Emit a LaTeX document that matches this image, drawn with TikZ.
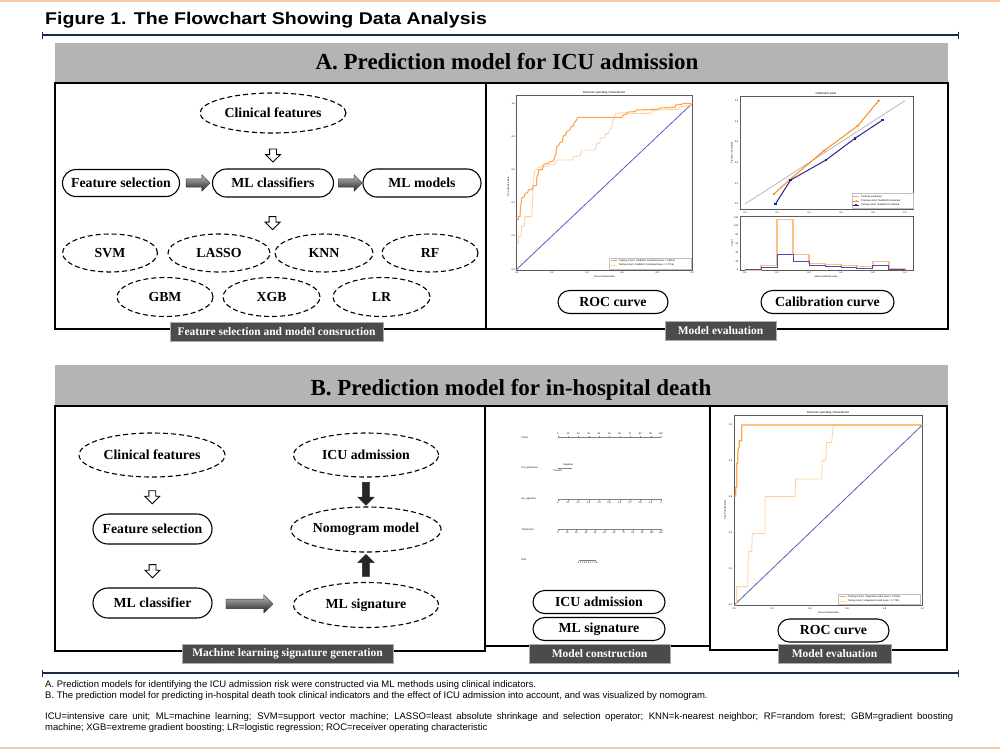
\documentclass[tikz,border=0pt]{standalone}
\usepackage{fontspec}
\setmainfont{Liberation Serif}
\newfontfamily\arialf{Liberation Sans}
\usetikzlibrary{shapes.geometric,shapes.misc,shapes.arrows}
\definecolor{salmon}{HTML}{F8C6A8}
\definecolor{navy}{HTML}{1C2A4E}
\definecolor{hdrgray}{HTML}{B4B4B4}
\definecolor{lblgray}{HTML}{4B4B4B}
\definecolor{rocA}{HTML}{FFA547}
\definecolor{rocB}{HTML}{FFD3A0}
\definecolor{diagblue}{HTML}{5B5BC2}
\definecolor{calorange}{HTML}{FF8A1E}
\definecolor{calblue}{HTML}{25258F}
\definecolor{histor}{HTML}{FFBF80}
\definecolor{histbl}{HTML}{4E4EAE}
\newcommand{\tinyf}{\arialf\fontsize{2.4}{2.8}\selectfont}
\begin{document}
\begin{tikzpicture}[x=1pt,y=-1pt,
  ff/.style={font=\bfseries\fontsize{13.8}{16}\selectfont},
  dashell/.style={ellipse, draw, dash pattern=on 5pt off 3pt, line width=1.1pt, inner sep=0pt, ff},
  stad/.style={rounded rectangle, draw, line width=1.1pt, inner sep=0pt, ff},
  lbl/.style={rectangle, fill=lblgray, draw=gray!65, line width=0.7pt, text=white, inner sep=0pt, font=\bfseries\fontsize{11.5}{13}\selectfont},
  hollow/.style={single arrow, draw, fill=white, line width=0.9pt, rotate=-90, minimum height=13pt, inner sep=3pt, single arrow head extend=4pt},
  blockh/.style={single arrow, draw=gray!40!black, line width=0.4pt, top color=gray!50, bottom color=gray!25!black, inner sep=4pt, single arrow head extend=4pt},
  blockv/.style={single arrow, draw=gray!30!black, fill=gray!30!black, line width=0.4pt, inner sep=3.5pt, single arrow head extend=4.5pt, minimum height=23pt},
  panel/.style={draw=black, line width=1.3pt},
  tk/.style={font=\tinyf, inner sep=0.3pt},
  tkt/.style={font=\arialf\fontsize{2.9}{3.2}\selectfont, inner sep=0.3pt},
  fn/.style={anchor=base west, inner sep=0pt, font=\arialf\fontsize{9.5}{11}\selectfont},
]
\useasboundingbox (0,0) rectangle (1000,753);
\fill[white] (0,0) rectangle (1000,753);
% salmon rules
\draw[salmon, line width=2.5pt] (0,1) -- (1000,1);
\draw[salmon, line width=2.5pt] (0,748) -- (1000,748);
% title
\node[anchor=base west, inner sep=0pt, font=\arialf\bfseries\fontsize{17}{20}\selectfont] (title) at (45,24) {\scalebox{1.15}[1]{Figure 1. The Flowchart Showing Data Analysis}};
\draw[navy, line width=1.1pt] (42,35) -- (958,35);
\draw[navy, line width=1pt] (42,31.5) -- (42,38.5) (958,31.5) -- (958,38.5);
\draw[navy, line width=1.1pt] (42,673) -- (958,673);
\draw[navy, line width=1pt] (42,669.5) -- (42,676.5) (958,669.5) -- (958,676.5);

% ================= PANEL A =================
\fill[hdrgray] (55,43) rectangle (948,83);
\node[anchor=base, inner sep=0pt, font=\bfseries\fontsize{23}{26}\selectfont] (titleA) at (507,69.5) {A. Prediction model for ICU admission};
\draw[panel] (55,83) rectangle (486,329);
\draw[panel] (486,83) rectangle (948,329);

\node[dashell, minimum width=146pt, minimum height=40pt] (cfA) at (273,113) {Clinical features};
\node[stad, minimum width=117pt, minimum height=27pt] (fsA) at (121,183) {Feature selection};
\node[stad, minimum width=121pt, minimum height=28pt] (mlcA) at (273,183) {ML classifiers};
\node[stad, minimum width=118pt, minimum height=28pt] (mlmA) at (422,183) {ML models};
\node[dashell, minimum width=95pt, minimum height=38pt] (svm) at (110,253) {SVM};
\node[dashell, minimum width=102pt, minimum height=38pt] (lasso) at (219,253) {LASSO};
\node[dashell, minimum width=98pt, minimum height=38pt] (knn) at (324,253) {KNN};
\node[dashell, minimum width=96pt, minimum height=38pt] (rf) at (430,253) {RF};
\node[dashell, minimum width=96pt, minimum height=39pt] (gbm) at (165,297) {GBM};
\node[dashell, minimum width=97pt, minimum height=39pt] (xgb) at (271.5,297) {XGB};
\node[dashell, minimum width=97pt, minimum height=39pt] (lr) at (381.5,297) {LR};

\path (cfA.south) -- (mlcA.north) node[hollow, pos=0.58] (hA1) {};
\path (mlcA.south) -- (xgb.north) node[hollow, pos=0.3] (hA2) {};
\path (fsA.east) -- (mlcA.west) node[blockh, minimum height=24pt, pos=0.5] (bA1) {};
\path (mlcA.east) -- (mlmA.west) node[blockh, minimum height=24pt, pos=0.5] (bA2) {};

\node[lbl, minimum width=213pt, minimum height=19pt] (lblA1) at (276.5,332) {Feature selection and model consruction};
\node[lbl, minimum width=111pt, minimum height=19pt] (lblA2) at (720.5,331) {Model evaluation};
\node[stad, minimum width=110pt, minimum height=23pt] (rocA) at (613,302) {ROC curve};
\node[stad, minimum width=133pt, minimum height=23pt] (calA) at (827.5,302) {Calibration curve};

% ROC plot A
\begin{scope}[shift={(485,80)}, scale=0.3333]
\draw[gray!70!black, line width=0.4pt] (95,45) rectangle (622,570);
\node[tkt] (rAt) at (358,38) {Receiver operating characteristic};
\draw[diagblue, line width=0.8pt] (95,568) -- (622,70);
\draw[rocB, line width=0.9pt] (95,495) -- (100,490) -- (100,470) -- (108,468) -- (110,440) -- (118,438) -- (120,410) -- (140,410) -- (142,380) -- (145,300) -- (150,270) -- (160,268) -- (160,262) -- (190,258) -- (190,255) -- (210,252) -- (215,240) -- (262,240) -- (265,230) -- (285,228) -- (290,210) -- (330,210) -- (335,192) -- (345,188) -- (345,175) -- (360,172) -- (362,162) -- (372,160) -- (372,150) -- (380,145) -- (382,130) -- (388,108) -- (392,100) -- (420,98) -- (440,100) -- (495,100) -- (505,92) -- (520,90) -- (580,88) -- (585,80) -- (610,78) -- (622,70);
\draw[rocA, line width=1.1pt] (95,420) -- (100,418) -- (100,410) -- (105,410) -- (107,380) -- (110,355) -- (118,350) -- (120,340) -- (128,338) -- (130,330) -- (142,328) -- (145,318) -- (155,316) -- (155,295) -- (160,280) -- (162,270) -- (172,268) -- (175,255) -- (180,252) -- (190,250) -- (195,245) -- (205,243) -- (210,230) -- (213,220) -- (215,200) -- (222,195) -- (225,188) -- (232,185) -- (235,168) -- (242,165) -- (245,155) -- (255,150) -- (258,140) -- (265,138) -- (268,128) -- (275,120) -- (278,113) -- (285,112) -- (410,112) -- (415,105) -- (425,102) -- (430,96) -- (450,95) -- (455,90) -- (520,88) -- (525,84) -- (570,82) -- (572,75) -- (590,73) -- (595,70) -- (622,70);
\foreach \xx/\t in {95/0.0,200/0.2,306/0.4,411/0.6,517/0.8,622/1.0} \node[tk] (rAx\xx) at (\xx,579) {\t};
\foreach \yy/\t in {70/1.0,170/0.8,269/0.6,369/0.4,468/0.2,568/0.0} \node[tk, anchor=east] (rAy\yy) at (91,\yy) {\t};
\node[tk] (rAxl) at (358,591) {False Positive Rate};
\node[tk, rotate=90] (rAyl) at (70,320) {True Positive Rate};
\draw[gray!50, line width=0.3pt, fill=white] (372,533) rectangle (618,566);
\draw[rocA, line width=1pt] (378,543) -- (396,543);
\draw[rocB, line width=1pt] (378,556) -- (396,556);
\node[tk, anchor=west] (rAl1) at (400,543) {Training cohort: RadMUD Combined (area = 0.8952)};
\node[tk, anchor=west] (rAl2) at (400,556) {Testing cohort: RadMUD Combined (area = 0.7716)};
\end{scope}

% Calibration plot A
\begin{scope}[shift={(720,80)}, scale=0.3333]
\draw[gray!70!black, line width=0.4pt] (62,48) rectangle (580,388);
\node[tkt] (cAt) at (318,40) {Calibration plots};
\draw[gray!55, line width=0.8pt] (75,372) -- (555,62);
\draw[calorange, line width=1pt] (162,342) -- (208,300) -- (312,212) -- (414,137) -- (476,62);
\foreach \xx/\yy in {162/342,208/300,312/212,414/137,476/62} \fill[calorange] (\xx,\yy) circle (4);
\draw[calblue, line width=1pt] (166,372) -- (212,300) -- (318,240) -- (405,175) -- (488,120);
\foreach \xx/\yy in {166/372,212/300,318/240,405/175,488/120} \fill[calblue] (\xx-4,\yy-4) rectangle (\xx+4,\yy+4);
\foreach \xx/\t in {75/0.0,171/0.2,267/0.4,363/0.6,459/0.8,555/1.0} \node[tk] (cAx\xx) at (\xx,397) {\t};
\foreach \yy/\t in {62/1.0,124/0.8,186/0.6,248/0.4,310/0.2,372/0.0} \node[tk, anchor=east] (cAy\yy) at (56,\yy) {\t};
\node[tk, rotate=90] (cAyl) at (36,218) {Fraction of positives};
\draw[gray!50, line width=0.3pt, fill=white] (395,340) rectangle (578,384);
\draw[gray!55, line width=0.8pt] (400,350) -- (418,350);
\draw[calorange, line width=0.8pt] (400,363) -- (418,363);
\fill[calorange] (409,363) circle (3);
\draw[calblue, line width=0.8pt] (400,376) -- (418,376);
\fill[calblue] (406,373) rectangle (412,379);
\node[tk, anchor=west] (cAl1) at (422,350) {Perfectly calibrated};
\node[tk, anchor=west] (cAl2) at (422,363) {Training cohort: RadMUD Combined};
\node[tk, anchor=west] (cAl3) at (422,376) {Testing cohort: RadMUD Combined};
% histogram
\draw[gray!70!black, line width=0.4pt] (62,410) rectangle (580,572);
\draw[histor, line width=1.3pt] (75,570) -- (123,570) -- (123,556) -- (171,556) -- (171,418) -- (219,418) -- (219,523) -- (267,523) -- (267,550) -- (315,550) -- (315,553) -- (363,553) -- (363,556) -- (411,556) -- (411,560) -- (459,560) -- (459,545) -- (507,545) -- (507,566) -- (555,566) -- (555,570);
\draw[histbl, line width=1pt] (75,570) -- (123,570) -- (123,562) -- (171,562) -- (171,523) -- (219,523) -- (219,545) -- (267,545) -- (267,558) -- (315,558) -- (315,561) -- (363,561) -- (363,563) -- (411,563) -- (411,565) -- (459,565) -- (459,556) -- (507,556) -- (507,568) -- (555,568) -- (555,570);
\foreach \xx/\t in {75/0.0,171/0.2,267/0.4,363/0.6,459/0.8,555/1.0} \node[tk] (hAx\xx) at (\xx,579) {\t};
\foreach \yy/\t in {413/120,438/100,464/80,491/60,517/40,544/20,570/0} \node[tk, anchor=east] (hAy\yy) at (56,\yy) {\t};
\node[tk] (hAxl) at (318,590) {Mean predicted value};
\node[tk, rotate=90] (hAyl) at (36,490) {Count};
\end{scope}

% ================= PANEL B =================
\fill[hdrgray] (55,365) rectangle (948,406);
\node[anchor=base, inner sep=0pt, font=\bfseries\fontsize{23}{26}\selectfont] (titleB) at (511,395) {B. Prediction model for in-hospital death};
\draw[panel] (55,406) rectangle (485,651);
\draw[panel] (485,406) rectangle (710,646);
\draw[panel] (710,406) rectangle (947,650);

\node[dashell, minimum width=146pt, minimum height=44pt] (cfB) at (152,455) {Clinical features};
\node[stad, minimum width=119pt, minimum height=30pt] (fsB) at (152.5,529) {Feature selection};
\node[stad, minimum width=119pt, minimum height=30pt] (mlclB) at (152.5,603) {ML classifier};
\node[dashell, minimum width=145pt, minimum height=44pt] (icuB) at (366,455) {ICU admission};
\node[dashell, minimum width=145pt, minimum height=45pt] (nomB) at (366,529.5) {Nomogram model};
\node[dashell, minimum width=145pt, minimum height=45pt] (mlsB) at (366,605) {ML signature};

\path (cfB.south) -- (fsB.north) node[hollow, pos=0.5] (hB1) {};
\path (fsB.south) -- (mlclB.north) node[hollow, pos=0.58] (hB2) {};
\path (icuB.south) -- (nomB.north) node[blockv, rotate=-90, pos=0.5] (bB1) {};
\path (mlsB.north) -- (nomB.south) node[blockv, rotate=90, minimum height=22pt, pos=0.5] (bB2) {};
\path (mlclB.east) -- (mlsB.west) node[blockh, minimum height=47pt, inner sep=4.5pt, single arrow head extend=4.5pt, pos=0.43] (bB3) {};

\node[stad, minimum width=132pt, minimum height=23pt] (icuM) at (599,602) {ICU admission};
\node[stad, minimum width=132pt, minimum height=23pt] (mlsM) at (599,629) {ML signature};
\node[stad, minimum width=111pt, minimum height=23pt] (rocBn) at (833.5,630.5) {ROC curve};

\node[lbl, minimum width=211pt, minimum height=19pt] (lblB1) at (287.5,653.5) {Machine learning signature generation};
\node[lbl, minimum width=141pt, minimum height=19pt] (lblB2) at (599.5,653.5) {Model construction};
\node[lbl, minimum width=113pt, minimum height=19pt] (lblB3) at (834.5,653.5) {Model evaluation};

% Nomogram
\begin{scope}[shift={(485,400)}, scale=0.3333]
\foreach \n/\yy/\t in {1/112/Points,2/205/ICU\_admission,3/298/ML\_signature,4/388/Total Points,5/480/Risk} \node[tk, anchor=west] (nom\n) at (108,\yy) {\t};
\draw[gray, line width=0.25pt] (218,112) -- (528,112);
\foreach \i [evaluate=\i as \v using int(10*\i)] in {0,...,10} {
  \draw[gray, line width=0.25pt] (218+31*\i,112) -- (218+31*\i,108);
  \node[tk] (np\i) at (218+31*\i,102) {\v};
}
\draw[gray, line width=0.25pt] (218,203) -- (262,203);
\node[tk] (nr2a) at (250,195) {Negative};
\node[tk] (nr2b) at (218,212) {Positive};
\draw[gray, line width=0.25pt] (218,298) -- (528,298);
\foreach \i/\t in {0/0,1/0.1,2/0.2,3/0.3,4/0.4,5/0.5,6/0.6,7/0.7,8/0.8,9/0.9,10/1} {
  \draw[gray, line width=0.25pt] (218+31*\i,298) -- (218+31*\i,302);
  \node[tk] (ns\i) at (218+31*\i,308) {\t};
}
\draw[gray, line width=0.25pt] (218,388) -- (528,388);
\foreach \i [evaluate=\i as \v using int(10*\i)] in {0,...,11} {
  \draw[gray, line width=0.25pt] (218+28.18*\i,388) -- (218+28.18*\i,392);
  \node[tk] (nt\i) at (218+28.18*\i,398) {\v};
}
\draw[gray, line width=0.25pt] (283,480) -- (333,480);
\node[tk] (nrk) at (308,489) {0.1 0.3 0.5 0.7 0.9};
\end{scope}

% ROC plot B
\begin{scope}[shift={(705,400)}, scale=0.3333]
\draw[gray!70!black, line width=0.4pt] (88,45) rectangle (652,615);
\node[tkt] (rBt) at (370,38) {Receiver operating characteristic};
\draw[diagblue, line width=0.8pt] (88,615) -- (652,75);
\draw[rocB, line width=0.9pt] (88,615) -- (95,615) -- (95,560) -- (128,560) -- (130,455) -- (140,455) -- (142,400) -- (180,400) -- (180,290) -- (270,290) -- (272,237) -- (350,237) -- (352,182) -- (362,182) -- (365,128) -- (380,128) -- (385,75) -- (652,75);
\draw[rocA, line width=1.2pt] (88,288) -- (92,288) -- (92,262) -- (95,262) -- (95,190) -- (98,190) -- (98,170) -- (100,145) -- (103,140) -- (103,122) -- (110,122) -- (110,75) -- (652,75);
\foreach \xx/\t in {88/0.0,201/0.2,314/0.4,426/0.6,539/0.8,652/1.0} \node[tk] (rBx\xx) at (\xx,626) {\t};
\foreach \yy/\t in {75/1.0,183/0.8,291/0.6,399/0.4,507/0.2,615/0.0} \node[tk, anchor=east] (rBy\yy) at (83,\yy) {\t};
\node[tk] (rBxl) at (370,638) {False Positive Rate};
\node[tk, rotate=90] (rByl) at (60,330) {True Positive Rate};
\draw[gray!50, line width=0.3pt, fill=white] (400,582) rectangle (646,612);
\draw[rocA, line width=1pt] (405,591) -- (423,591);
\draw[rocB, line width=1pt] (405,604) -- (423,604);
\node[tk, anchor=west] (rBl1) at (427,591) {Training cohort: integrated model (area = 0.9922)};
\node[tk, anchor=west] (rBl2) at (427,604) {Testing cohort: integrated model (area = 0.7724)};
\end{scope}

% footnotes
\node[fn] (fnA) at (45,687.5) {A. Prediction models for identifying the ICU admission risk were constructed via ML methods using clinical indicators.};
\node[fn] (fnB) at (45,698.5) {B. The prediction model for predicting in-hospital death took clinical indicators and the effect of ICU admission into account, and was visualized by nomogram.};
\node[fn] (fnC) at (45,719) {\makebox[908pt][s]{ICU=intensive care unit; ML=machine learning; SVM=support vector machine; LASSO=least absolute shrinkage and selection operator; KNN=k-nearest neighbor; RF=random forest; GBM=gradient boosting}};
\node[fn] (fnD) at (45,730.5) {machine; XGB=extreme gradient boosting; LR=logistic regression; ROC=receiver operating characteristic};
\end{tikzpicture}
\end{document}
